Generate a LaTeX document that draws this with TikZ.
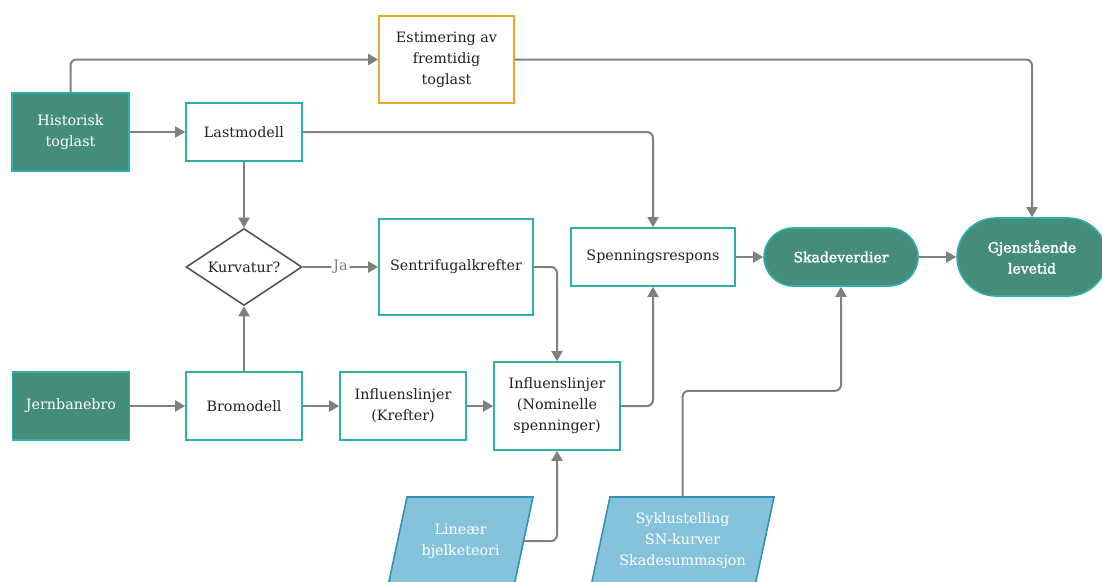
\documentclass[tikz,border=0pt]{standalone}
\usepackage{fontspec}
\setmainfont{DejaVu Serif}
\usetikzlibrary{arrows.meta,shapes.geometric}
\definecolor{dgreen}{HTML}{458D7B}
\definecolor{teal2}{HTML}{2EAFAE}
\definecolor{orng}{HTML}{E9A92B}
\definecolor{pfill}{HTML}{85C3DD}
\definecolor{pborder}{HTML}{3691B3}
\definecolor{lgray}{HTML}{808080}
\definecolor{dgray}{HTML}{555555}
\definecolor{txt}{HTML}{222222}
\newfontfamily\boldish[FakeBold=2]{DejaVu Serif}
\tikzset{
  base/.style={font=\fontsize{14.3}{21}\selectfont, align=center, inner sep=0pt, text=txt},
  wbox/.style={base, draw=teal2, fill=white, line width=1.6pt},
  gbox/.style={base, draw=teal2, fill=dgreen, line width=1.6pt, text=white},
  obox/.style={base, draw=orng, fill=white, line width=1.6pt},
  pill/.style={base, draw=teal2, fill=dgreen, line width=1.6pt, text=white, font=\fontsize{14}{21}\selectfont\boldish},
  dia/.style={base, diamond, draw=dgray, fill=white, line width=1.6pt},
  ptext/.style={base, text=white},
  para/.style={draw=pborder, fill=pfill, line width=1.6pt},
  conn/.style={draw=lgray, line width=2pt, rounded corners=6pt, -{Triangle[length=10pt,width=11pt]}},
}
\begin{document}
\begin{tikzpicture}[x=1pt,y=-1pt]
\useasboundingbox (0,0) rectangle (1102,581);
% parallelogram shapes
\draw[para] (407,497) -- (533,497) -- (514.2,585) -- (388.2,585) -- cycle;
\draw[para] (610,497) -- (774,497) -- (755.2,585) -- (591.2,585) -- cycle;
% nodes
\node[gbox, minimum width=117pt, minimum height=78pt] (hist) at (70.5,132) {Historisk\\toglast};
\node[wbox, minimum width=116pt, minimum height=58pt] (last) at (244,132) {Lastmodell};
\node[obox, minimum width=135pt, minimum height=87pt] (est) at (446.5,59.5) {Estimering av\\fremtidig\\toglast};
\node[dia, minimum width=116pt, minimum height=77pt, aspect=1.5] (kurv) at (244,267) {Kurvatur?};
\node[wbox, minimum width=154pt, minimum height=96pt] (sent) at (456,267) {Sentrifugalkrefter};
\node[wbox, minimum width=164pt, minimum height=58pt] (span) at (653,257) {Spenningsrespons};
\node[pill, minimum width=154pt, minimum height=58pt, rounded corners=29pt] (skade) at (841,257) {Skadeverdier};
\node[pill, minimum width=150pt, minimum height=78pt, rounded corners=39pt] (gjen) at (1032,257) {Gjenstående\\levetid};
\node[gbox, minimum width=117pt, minimum height=68pt] (jern) at (71,406) {Jernbanebro};
\node[wbox, minimum width=116pt, minimum height=68pt] (bro) at (244,406) {Bromodell};
\node[wbox, minimum width=126pt, minimum height=68pt] (infk) at (403,406) {Influenslinjer\\(Krefter)};
\node[wbox, minimum width=126pt, minimum height=88pt] (infn) at (557,406) {Influenslinjer\\(Nominelle\\spenninger)};
\node[ptext, minimum width=126pt, minimum height=88pt] (lin) at (460.6,541) {Lineær\\bjelketeori};
\node[ptext, minimum width=164pt, minimum height=88pt] (sykl) at (682.6,541) {Syklustelling\\SN-kurver\\Skadesummasjon};
% connectors
\draw[conn] (hist.north) |- (est.west);
\draw[conn] (hist.east) -- (last.west);
\draw[conn] (est.east) -| (gjen.north);
\draw[conn] (last.east) -| (span.north);
\draw[conn] (last.south) -- (kurv.north);
\draw[conn] (kurv.east) -- node[fill=white, inner sep=2pt, text=lgray, font=\fontsize{14.3}{15}\selectfont] {Ja} (sent.west);
\draw[conn] (sent.east) -| (infn.north);
\draw[conn] (jern.east) -- (bro.west);
\draw[conn] (bro.north) -- (kurv.south);
\draw[conn] (bro.east) -- (infk.west);
\draw[conn] (infk.east) -- (infn.west);
\draw[conn] (infn.east) -| (span.south);
\draw[conn] (lin.east) -| (infn.south);
\draw[conn] (sykl.north) -- ++(0,-106) -| (skade.south);
\draw[conn] (span.east) -- (skade.west);
\draw[conn] (skade.east) -- (gjen.west);
\end{tikzpicture}
\end{document}
